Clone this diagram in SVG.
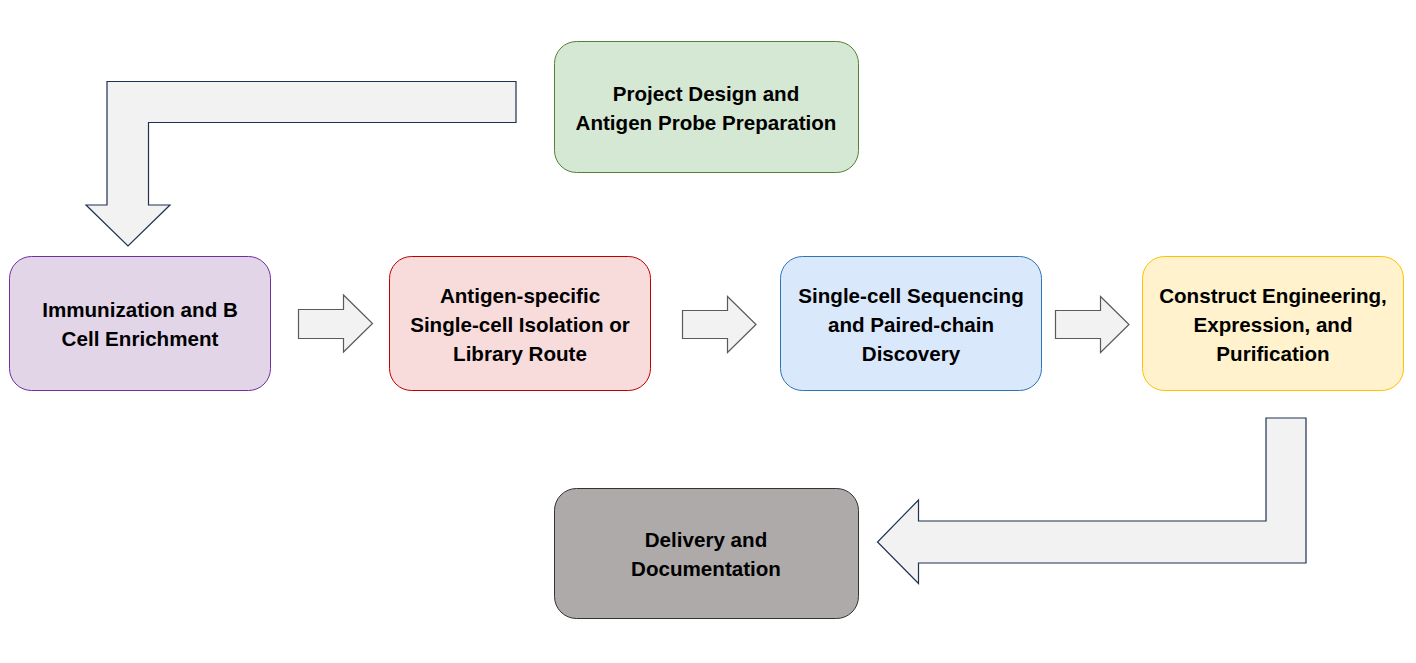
<svg xmlns="http://www.w3.org/2000/svg" width="1416" height="663" viewBox="0 0 1416 663">
<style>
.t{font-family:"Liberation Sans",Arial,sans-serif;font-weight:bold;font-size:20.6px;fill:#000;text-anchor:middle}
.big{fill:#f2f2f2;stroke:#1f3050;stroke-width:1.2}
.sm{fill:#f2f2f2;stroke:#5a5a5a;stroke-width:1.2}
</style>
<rect width="1416" height="663" fill="#fff"/>
<g id="connectors">
<path class="big" d="M516,81.5 L516,122.5 L148.5,122.5 L148.5,205 L170,205 L128,246 L86,205 L107,205 L107,81.5 Z"/>
<path class="big" d="M1306,418 L1306,563 L918.5,563 L918.5,583.5 L877.5,542 L918.5,500 L918.5,521 L1266,521 L1266,418 Z"/>
<path class="sm" d="M298.5,309.5 L343.5,309.5 L343.5,295 L372.5,323.5 L343.5,352 L343.5,338.5 L298.5,338.5 Z"/>
<path class="sm" d="M682.5,310.5 L727.5,310.5 L727.5,296.5 L756,324.5 L727.5,352.5 L727.5,338.5 L682.5,338.5 Z"/>
<path class="sm" d="M1055.5,310.5 L1100.5,310.5 L1100.5,296.5 L1129,324.5 L1100.5,352.5 L1100.5,338.5 L1055.5,338.5 Z"/>
</g>
<g id="node-project">
<rect x="554.5" y="41.5" width="304" height="131" rx="22" fill="#d5e8d4" stroke="#548235"/>
<text class="t" x="706" y="100.5">Project Design and</text>
<text class="t" x="706" y="129.5">Antigen Probe Preparation</text>
</g>
<g id="node-immunization">
<rect x="9.5" y="256.5" width="261" height="134" rx="22" fill="#e1d5e7" stroke="#7030a0"/>
<text class="t" x="140" y="317">Immunization and B</text>
<text class="t" x="140" y="346">Cell Enrichment</text>
</g>
<g id="node-isolation">
<rect x="389.5" y="256.5" width="261" height="134" rx="22" fill="#f8dcdc" stroke="#c00000"/>
<text class="t" x="520" y="303">Antigen-specific</text>
<text class="t" x="520" y="332">Single-cell Isolation or</text>
<text class="t" x="520" y="361">Library Route</text>
</g>
<g id="node-sequencing">
<rect x="780.5" y="256.5" width="261" height="134" rx="22" fill="#dae8fc" stroke="#2e75b6"/>
<text class="t" x="911" y="303">Single-cell Sequencing</text>
<text class="t" x="911" y="332">and Paired-chain</text>
<text class="t" x="911" y="361">Discovery</text>
</g>
<g id="node-construct">
<rect x="1142.5" y="256.5" width="261" height="134" rx="22" fill="#fff2cc" stroke="#ffc000"/>
<text class="t" x="1273" y="303">Construct Engineering,</text>
<text class="t" x="1273" y="332">Expression, and</text>
<text class="t" x="1273" y="361">Purification</text>
</g>
<g id="node-delivery">
<rect x="554.5" y="488.5" width="304" height="130" rx="22" fill="#aeaaaa" stroke="#333"/>
<text class="t" x="706" y="547">Delivery and</text>
<text class="t" x="706" y="576">Documentation</text>
</g>
</svg>
